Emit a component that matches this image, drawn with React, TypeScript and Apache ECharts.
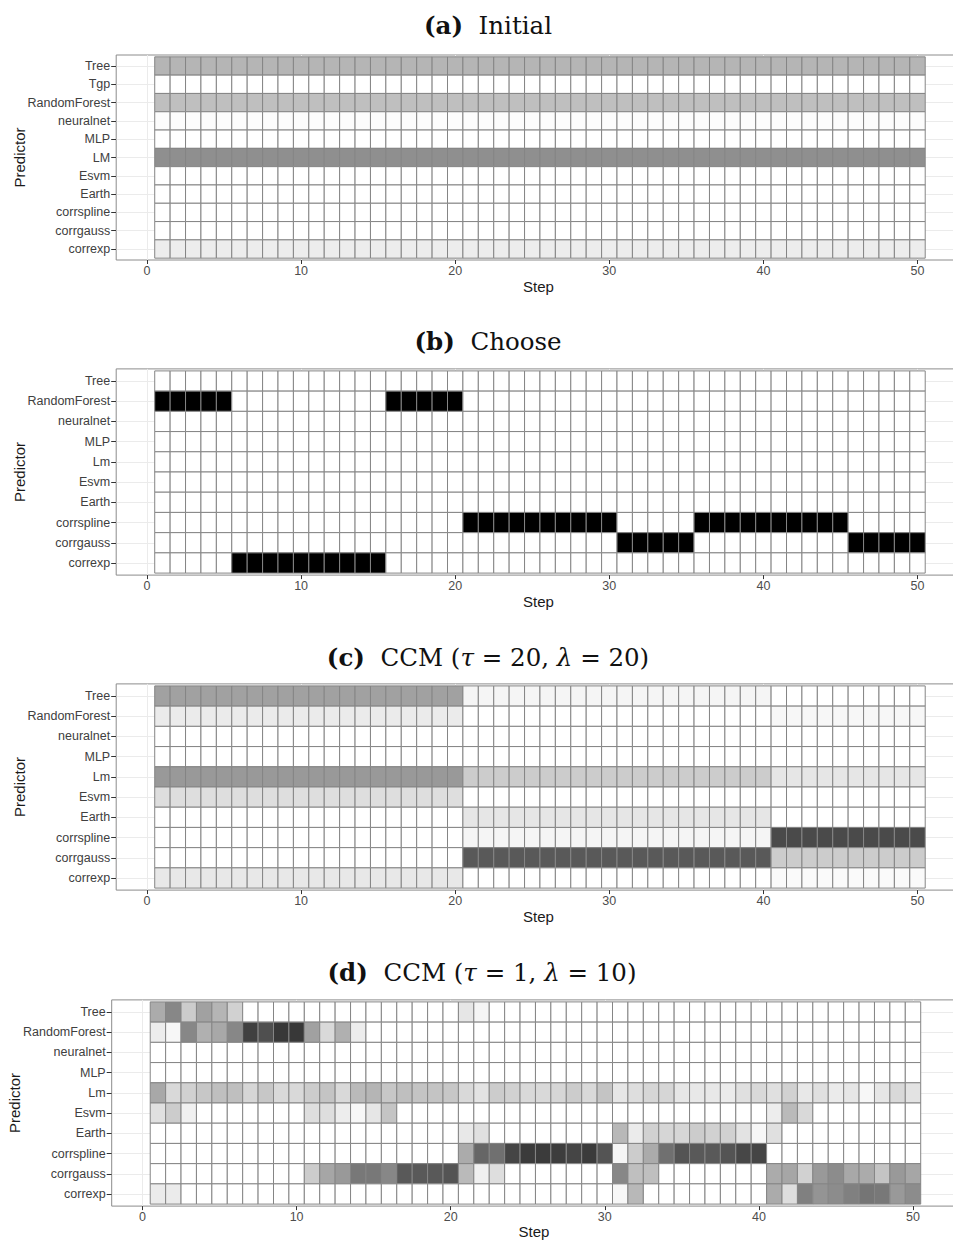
import React, { useEffect, useRef } from "react";
import * as echarts from "echarts";

// ---------- data ----------
const STEP_COUNT = 50;
const X_TICKS = [0, 10, 20, 30, 40, 50];

// (a) Initial: one weight (%) per predictor, constant across steps
const ROWS_A = ["Tree", "Tgp", "RandomForest", "neuralnet", "MLP", "LM", "Esvm", "Earth", "corrspline", "corrgauss", "correxp"];
const WEIGHT_A = [29, 0, 25, 1, 0, 44, 0, 0, 0, 0, 7];

// (b) Choose: the predictor chosen at each step 1..50
const ROWS_B = ["Tree", "RandomForest", "neuralnet", "MLP", "Lm", "Esvm", "Earth", "corrspline", "corrgauss", "correxp"];
const CHOSEN_B = [
  "RandomForest", "RandomForest", "RandomForest", "RandomForest", "RandomForest",
  "correxp", "correxp", "correxp", "correxp", "correxp",
  "correxp", "correxp", "correxp", "correxp", "correxp",
  "RandomForest", "RandomForest", "RandomForest", "RandomForest", "RandomForest",
  "corrspline", "corrspline", "corrspline", "corrspline", "corrspline",
  "corrspline", "corrspline", "corrspline", "corrspline", "corrspline",
  "corrgauss", "corrgauss", "corrgauss", "corrgauss", "corrgauss",
  "corrspline", "corrspline", "corrspline", "corrspline", "corrspline",
  "corrspline", "corrspline", "corrspline", "corrspline", "corrspline",
  "corrgauss", "corrgauss", "corrgauss", "corrgauss", "corrgauss",
];

// (c) CCM tau=20, lambda=20: weight (%) per predictor in each phase
const ROWS_C = ["Tree", "RandomForest", "neuralnet", "MLP", "Lm", "Esvm", "Earth", "corrspline", "corrgauss", "correxp"];
const PHASE_END_C = [20, 40, 50];
const WEIGHT_C = [
  [37, 4, 0],   // Tree
  [8, 0, 3],    // RandomForest
  [0, 0, 0],    // neuralnet
  [0, 0, 0],    // MLP
  [40, 20, 10], // Lm
  [13, 0, 0],   // Esvm
  [0, 10, 0],   // Earth
  [0, 4, 71],   // corrspline
  [0, 65, 20],  // corrgauss
  [9, 0, 2],    // correxp
];

// (d) CCM tau=1, lambda=10: weight (%) per predictor and step
const ROWS_D = ["Tree", "RandomForest", "neuralnet", "MLP", "Lm", "Esvm", "Earth", "corrspline", "corrgauss", "correxp"];
const D_TREE = [33, 47, 20, 37, 29, 18, 0, 0, 0, 0, 0, 0, 0, 0, 0, 0, 0, 0, 0, 0, 10, 4, 0, 0, 0, 0, 0, 0, 0, 0, 0, 0, 0, 0, 0, 0, 0, 0, 0, 0, 0, 0, 0, 0, 0, 0, 0, 0, 0, 0];
const D_RF = [7, 3, 47, 31, 34, 47, 75, 69, 78, 78, 37, 15, 31, 7, 0, 0, 0, 0, 0, 0, 0, 0, 0, 0, 0, 0, 0, 0, 0, 0, 0, 0, 0, 0, 0, 0, 0, 0, 0, 0, 0, 0, 0, 0, 0, 0, 0, 0, 0, 0];
const D_NEURALNET = [0, 0, 0, 0, 0, 0, 0, 0, 0, 0, 0, 0, 0, 0, 0, 0, 0, 0, 0, 0, 0, 0, 0, 0, 0, 0, 0, 0, 0, 0, 0, 0, 0, 0, 0, 0, 0, 0, 0, 0, 0, 0, 0, 0, 0, 0, 0, 0, 0, 0];
const D_MLP = [0, 0, 0, 0, 0, 0, 0, 0, 0, 0, 0, 0, 0, 0, 0, 0, 0, 0, 0, 0, 0, 0, 0, 0, 0, 0, 0, 0, 0, 0, 0, 0, 0, 0, 0, 0, 0, 0, 0, 0, 0, 0, 0, 0, 0, 0, 0, 0, 0, 0];
const D_LM = [34, 15, 18, 22, 25, 25, 16, 22, 15, 15, 20, 23, 15, 27, 29, 22, 25, 23, 23, 22, 15, 11, 20, 18, 15, 15, 16, 20, 15, 23, 10, 13, 16, 16, 10, 9, 9, 8, 12, 15, 12, 18, 9, 12, 8, 10, 3, 10, 15, 11];
const D_ESVM = [12, 20, 6, 0, 0, 0, 0, 0, 0, 0, 13, 13, 7, 3, 10, 23, 0, 0, 0, 0, 0, 0, 0, 0, 0, 0, 0, 0, 0, 0, 0, 0, 0, 0, 0, 0, 0, 0, 0, 0, 7, 27, 15, 0, 0, 0, 0, 0, 0, 0];
const D_EARTH = [0, 0, 0, 0, 0, 0, 0, 0, 0, 0, 0, 0, 0, 0, 0, 0, 0, 0, 0, 0, 9, 12, 0, 0, 0, 0, 0, 0, 0, 0, 28, 8, 18, 16, 16, 20, 18, 18, 11, 3, 12, 0, 0, 0, 0, 0, 0, 0, 0, 0];
const D_CORRSPLINE = [0, 0, 0, 0, 0, 0, 0, 0, 0, 0, 0, 0, 0, 0, 0, 0, 0, 0, 0, 0, 33, 60, 56, 73, 77, 77, 76, 73, 77, 67, 4, 20, 33, 56, 67, 65, 65, 67, 72, 73, 0, 0, 0, 0, 0, 0, 0, 0, 0, 0];
const D_CORRGAUSS = [0, 0, 0, 0, 0, 0, 0, 0, 0, 0, 20, 35, 40, 53, 53, 47, 65, 65, 65, 67, 27, 6, 13, 0, 0, 0, 0, 0, 0, 0, 47, 25, 25, 0, 0, 0, 0, 0, 0, 0, 33, 35, 18, 40, 45, 34, 33, 23, 40, 35];
const D_CORREXP = [8, 8, 0, 0, 0, 0, 0, 0, 0, 0, 0, 0, 0, 0, 0, 0, 0, 0, 0, 0, 0, 0, 0, 0, 0, 0, 0, 0, 0, 0, 3, 28, 0, 0, 0, 0, 0, 0, 0, 0, 33, 13, 50, 42, 45, 50, 54, 53, 40, 45];
const WEIGHT_D = [D_TREE, D_RF, D_NEURALNET, D_MLP, D_LM, D_ESVM, D_EARTH, D_CORRSPLINE, D_CORRGAUSS, D_CORREXP];

const TITLES = [
  "{b|(a)}{n|  Initial}",
  "{b|(b)}{n|  Choose}",
  "{b|(c)}{n|  CCM (}{i|τ}{n| = 20, }{i|λ}{n| = 20)}",
  "{b|(d)}{n|  CCM (}{i|τ}{n| = 1, }{i|λ}{n| = 10)}",
];

// ---------- builders ----------
function cells(rows: string[], weight: (r: number, s: number) => number) {
  const n = rows.length;
  const out: number[][] = [];
  rows.forEach((_, r) => {
    for (let s = 1; s <= STEP_COUNT; s++) out.push([s, n - r, weight(r, s)]);
  });
  return out;
}

function phaseOf(s: number) {
  return PHASE_END_C.findIndex((e) => s <= e);
}

const PANELS = [
  { rows: ROWS_A, data: cells(ROWS_A, (r) => WEIGHT_A[r]), left: 116.2, top: 55, height: 205, titleX: 488, titleY: 25, predX: 19, nameGap: 19 },
  { rows: ROWS_B, data: cells(ROWS_B, (r, s) => (CHOSEN_B[s - 1] === ROWS_B[r] ? 100 : 0)), left: 116.2, top: 368.9, height: 206.2, titleX: 488, titleY: 341, predX: 19, nameGap: 19 },
  { rows: ROWS_C, data: cells(ROWS_C, (r, s) => WEIGHT_C[r][phaseOf(s)]), left: 116.2, top: 683.9, height: 206.2, titleX: 488, titleY: 657, predX: 19, nameGap: 19 },
  { rows: ROWS_D, data: cells(ROWS_D, (r, s) => WEIGHT_D[r][s - 1]), left: 111.7, top: 999.9, height: 206.2, titleX: 482, titleY: 972, predX: 14, nameGap: 17 },
];

const GRID_W = 844.6;
const X_MIN = -2;
const X_MAX = 52.81;

function shade(w: number) {
  const g = Math.round(255 * (1 - w / 100));
  return `rgb(${g},${g},${g})`;
}

const SANS = "Liberation Sans, Arial, sans-serif";
const SERIF = "DejaVu Serif, serif";
const TITLE_SIZE = 24.5;

export default function App() {
  const ref = useRef<HTMLDivElement>(null);

  useEffect(() => {
    if (!ref.current) return;
    const chart = echarts.init(ref.current, null, { renderer: "svg" });

    const grid = PANELS.map((p) => ({
      left: p.left,
      top: p.top,
      width: GRID_W,
      height: p.height,
      show: true,
      borderColor: "#8c8c8c",
      borderWidth: 1,
      backgroundColor: "#ffffff",
      containLabel: false,
      outerBoundsMode: "none",
    }));

    const xAxis = PANELS.map((p, i) => ({
      type: "value",
      gridIndex: i,
      min: X_MIN,
      max: X_MAX,
      axisLine: { show: false, onZero: false },
      axisTick: { show: true, length: 4, lineStyle: { color: "#333" }, customValues: X_TICKS },
      axisLabel: { customValues: X_TICKS, fontSize: 12.5, color: "#4d4d4d", margin: 4, fontFamily: SANS },
      splitLine: { show: true, lineStyle: { color: "#ebebeb", width: 1 } },
      name: "Step",
      nameLocation: "middle",
      nameGap: p.nameGap,
      nameTextStyle: { fontSize: 15, color: "#1a1a1a", fontFamily: SANS },
    }));

    const yAxis = PANELS.map((p, i) => {
      const n = p.rows.length;
      const vals = Array.from({ length: n }, (_, k) => k + 1);
      return {
        type: "value",
        gridIndex: i,
        min: 0.4,
        max: n + 0.6,
        axisLine: { show: false, onZero: false },
        axisTick: { show: true, length: 5, lineStyle: { color: "#333" }, customValues: vals },
        axisLabel: {
          customValues: vals,
          fontSize: 12.5,
          color: "#404040",
          margin: 6,
          fontFamily: SANS,
          formatter: (v: number) => p.rows[n - Math.round(v)] ?? "",
        },
        splitLine: { show: true, lineStyle: { color: "#ebebeb", width: 1 } },
      };
    });

    const series = PANELS.map((p, i) => ({
      type: "custom",
      xAxisIndex: i,
      yAxisIndex: i,
      encode: { x: 0, y: 1 },
      clip: false,
      data: p.data,
      renderItem: (_params: any, api: any) => {
        const x = api.value(0);
        const y = api.value(1);
        const w = api.value(2);
        const p0 = api.coord([x - 0.5, y + 0.5]);
        const p1 = api.coord([x + 0.5, y - 0.5]);
        return {
          type: "rect",
          shape: { x: p0[0], y: p0[1], width: p1[0] - p0[0], height: p1[1] - p0[1] },
          style: { fill: shade(w), stroke: "#858585", lineWidth: 1 },
        };
      },
    }));

    const graphic: any[] = [];
    PANELS.forEach((p, i) => {
      graphic.push({
        type: "text",
        x: p.titleX,
        y: p.titleY,
        style: {
          text: TITLES[i],
          align: "center",
          verticalAlign: "middle",
          fontFamily: SERIF,
          fontSize: TITLE_SIZE,
          fill: "#111",
          rich: {
            b: { fontFamily: SERIF, fontSize: TITLE_SIZE, fontWeight: "bold", fill: "#111" },
            n: { fontFamily: SERIF, fontSize: TITLE_SIZE, fill: "#111" },
            i: { fontFamily: SERIF, fontSize: TITLE_SIZE, fontStyle: "italic", fill: "#111" },
          },
        },
      });
      graphic.push({
        type: "text",
        x: p.predX,
        y: p.top + p.height / 2,
        rotation: Math.PI / 2,
        style: {
          text: "Predictor",
          align: "center",
          verticalAlign: "middle",
          fontFamily: SANS,
          fontSize: 15,
          fill: "#1a1a1a",
        },
      });
    });

    chart.setOption({
      animation: false,
      backgroundColor: "#ffffff",
      grid,
      xAxis,
      yAxis,
      series,
      graphic,
    } as any);

    return () => chart.dispose();
  }, []);

  return (
    <div
      ref={ref}
      style={{ position: "absolute", left: 0, top: 0, width: 953, height: 1240, overflow: "hidden" }}
    />
  );
}
